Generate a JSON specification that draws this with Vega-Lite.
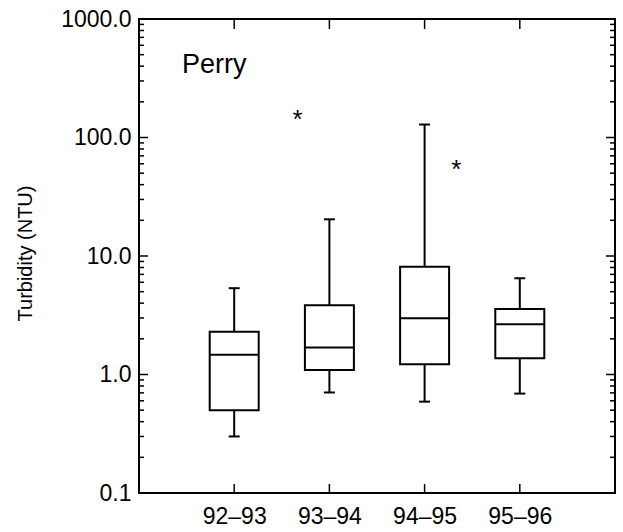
{
  "$schema": "https://vega.github.io/schema/vega-lite/v6.json",
  "width": 476,
  "height": 474,
  "autosize": {"type": "none"},
  "padding": {"left": 139, "top": 19, "right": 8, "bottom": 39},
  "background": "white",
  "config": {
    "view": {"stroke": "black", "strokeWidth": 2},
    "font": "Liberation Sans",
    "axis": {
      "domain": false,
      "grid": false,
      "ticks": false,
      "tickSize": 0,
      "labelColor": "black",
      "titleColor": "black",
      "labelFont": "Liberation Sans",
      "titleFont": "Liberation Sans",
      "labelFlush": false,
      "labelOverlap": false,
      "labelBound": false
    }
  },
  "title": {
    "text": "Perry",
    "anchor": "start",
    "frame": "group",
    "orient": "top",
    "fontSize": 27,
    "fontWeight": "normal",
    "font": "Liberation Sans",
    "color": "black",
    "baseline": "alphabetic",
    "offset": 0,
    "dx": 43,
    "dy": 92
  },
  "datasets": {
    "boxes": [
      {"season": "92–93", "lo": 0.30, "q1": 0.50, "med": 1.47, "q3": 2.29, "hi": 5.35},
      {"season": "93–94", "lo": 0.705, "q1": 1.09, "med": 1.69, "q3": 3.84, "hi": 20.4},
      {"season": "94–95", "lo": 0.59, "q1": 1.22, "med": 2.99, "q3": 8.13, "hi": 128.7},
      {"season": "95–96", "lo": 0.69, "q1": 1.37, "med": 2.66, "q3": 3.57, "hi": 6.49}
    ],
    "outliers": [
      {"season": "94–95", "value": 156},
      {"season": "95–96", "value": 58.6}
    ],
    "yticks": [
      {"v": 0.1, "kind": "major"}, {"v": 0.2, "kind": "minor"}, {"v": 0.3, "kind": "minor"}, {"v": 0.4, "kind": "minor"}, {"v": 0.5, "kind": "minor"}, {"v": 0.6, "kind": "minor"}, {"v": 0.7, "kind": "minor"}, {"v": 0.8, "kind": "minor"}, {"v": 0.9, "kind": "minor"},
      {"v": 1, "kind": "major"}, {"v": 2, "kind": "minor"}, {"v": 3, "kind": "minor"}, {"v": 4, "kind": "minor"}, {"v": 5, "kind": "minor"}, {"v": 6, "kind": "minor"}, {"v": 7, "kind": "minor"}, {"v": 8, "kind": "minor"}, {"v": 9, "kind": "minor"},
      {"v": 10, "kind": "major"}, {"v": 20, "kind": "minor"}, {"v": 30, "kind": "minor"}, {"v": 40, "kind": "minor"}, {"v": 50, "kind": "minor"}, {"v": 60, "kind": "minor"}, {"v": 70, "kind": "minor"}, {"v": 80, "kind": "minor"}, {"v": 90, "kind": "minor"},
      {"v": 100, "kind": "major"}, {"v": 200, "kind": "minor"}, {"v": 300, "kind": "minor"}, {"v": 400, "kind": "minor"}, {"v": 500, "kind": "minor"}, {"v": 600, "kind": "minor"}, {"v": 700, "kind": "minor"}, {"v": 800, "kind": "minor"}, {"v": 900, "kind": "minor"},
      {"v": 1000, "kind": "major"}
    ]
  },
  "resolve": {"scale": {"x": "independent"}, "axis": {"x": "independent"}},
  "layer": [
    {
      "data": {"name": "boxes"},
      "mark": {"type": "rule", "strokeWidth": 2, "color": "black"},
      "encoding": {
        "x": {
          "field": "season", "type": "nominal", "sort": null,
          "scale": {"type": "point", "padding": 1},
          "axis": {"orient": "bottom", "title": null, "labelAngle": 0, "labelFontSize": 23, "labelPadding": 12}
        },
        "y": {
          "field": "lo", "type": "quantitative",
          "scale": {"type": "log", "domain": [0.1, 1000], "nice": false},
          "axis": {
            "orient": "left", "values": [0.1, 1, 10, 100, 1000], "format": ".1f",
            "labelPadding": 8, "labelFontSize": 23,
            "title": "Turbidity (NTU)", "titleFontSize": 20, "titleFontWeight": "normal",
            "titleAngle": -90, "titleX": -114, "titleY": 234, "titleAlign": "center", "titleBaseline": "middle"
          }
        },
        "y2": {"field": "hi"}
      }
    },
    {
      "data": {"name": "boxes"},
      "mark": {"type": "bar", "size": 49, "fill": "white", "stroke": "black", "strokeWidth": 2},
      "encoding": {
        "x": {"field": "season", "type": "nominal", "sort": null, "scale": {"type": "point", "padding": 1}, "axis": null},
        "y": {"field": "q1", "type": "quantitative"},
        "y2": {"field": "q3"}
      }
    },
    {
      "data": {"name": "boxes"},
      "mark": {"type": "tick", "size": 49, "thickness": 2, "color": "black", "opacity": 1},
      "encoding": {
        "x": {"field": "season", "type": "nominal", "sort": null, "scale": {"type": "point", "padding": 1}, "axis": null},
        "y": {"field": "med", "type": "quantitative"}
      }
    },
    {
      "data": {"name": "boxes"},
      "mark": {"type": "tick", "size": 11, "thickness": 2, "color": "black", "opacity": 1},
      "encoding": {
        "x": {"field": "season", "type": "nominal", "sort": null, "scale": {"type": "point", "padding": 1}, "axis": null},
        "y": {"field": "hi", "type": "quantitative"}
      }
    },
    {
      "data": {"name": "boxes"},
      "mark": {"type": "tick", "size": 11, "thickness": 2, "color": "black", "opacity": 1},
      "encoding": {
        "x": {"field": "season", "type": "nominal", "sort": null, "scale": {"type": "point", "padding": 1}, "axis": null},
        "y": {"field": "lo", "type": "quantitative"}
      }
    },
    {
      "data": {"name": "outliers"},
      "mark": {"type": "text", "text": "*", "fontSize": 26, "baseline": "alphabetic", "dy": 13, "color": "black", "font": "Liberation Sans"},
      "encoding": {
        "x": {"field": "season", "type": "nominal", "sort": null, "scale": {"type": "point", "padding": 1}, "axis": null},
        "y": {"field": "value", "type": "quantitative"}
      }
    },
    {
      "data": {"name": "yticks"},
      "mark": {"type": "tick", "orient": "horizontal", "thickness": 1.5, "color": "black", "opacity": 1, "clip": true},
      "encoding": {
        "x": {"datum": 0, "type": "quantitative", "scale": {"domain": [0, 1]}, "axis": null},
        "y": {"field": "v", "type": "quantitative"},
        "size": {"field": "kind", "type": "ordinal", "scale": {"domain": ["major", "minor"], "range": [18, 10]}, "legend": null}
      }
    },
    {
      "data": {"name": "yticks"},
      "mark": {"type": "tick", "orient": "horizontal", "thickness": 1.5, "color": "black", "opacity": 1, "clip": true},
      "encoding": {
        "x": {"datum": 1, "type": "quantitative", "scale": {"domain": [0, 1]}, "axis": null},
        "y": {"field": "v", "type": "quantitative"},
        "size": {"field": "kind", "type": "ordinal", "scale": {"domain": ["major", "minor"], "range": [18, 10]}, "legend": null}
      }
    },
    {
      "data": {"name": "boxes"},
      "mark": {"type": "tick", "orient": "vertical", "size": 18, "thickness": 1.5, "color": "black", "opacity": 1, "clip": true},
      "encoding": {
        "x": {"field": "season", "type": "nominal", "sort": null, "scale": {"type": "point", "padding": 1}, "axis": null},
        "y": {"datum": 0.1, "type": "quantitative"}
      }
    },
    {
      "data": {"name": "boxes"},
      "mark": {"type": "tick", "orient": "vertical", "size": 20, "thickness": 1.5, "color": "black", "opacity": 1, "clip": true},
      "encoding": {
        "x": {"field": "season", "type": "nominal", "sort": null, "scale": {"type": "point", "padding": 1}, "axis": null},
        "y": {"datum": 1000, "type": "quantitative"}
      }
    }
  ]
}
